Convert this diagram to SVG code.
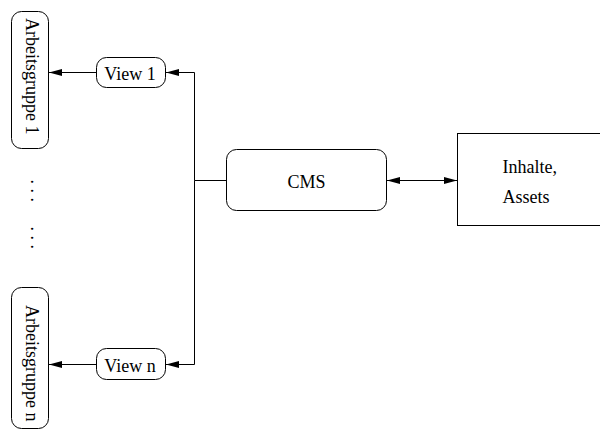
<svg xmlns="http://www.w3.org/2000/svg" width="600" height="429" viewBox="0 0 600 429">
  <style>
    .box { fill: #ffffff; stroke: #000000; stroke-width: 1; }
    .lbl { font-family: "Liberation Serif", "Times New Roman", serif; font-size: 18px; fill: #000000; }
    .mid { text-anchor: middle; }
    .wire { fill: none; stroke: #000000; stroke-width: 1; }
  </style>
  <defs>
    <marker id="arrow" markerUnits="userSpaceOnUse" markerWidth="14" markerHeight="8" refX="13" refY="3.5" orient="auto-start-reverse">
      <path d="M0,0 L13,3.5 L0,7 Z" fill="#000000"/>
    </marker>
  </defs>
  <rect width="600" height="429" fill="#ffffff"/>

  <!-- connectors -->
  <g id="connectors">
    <path class="wire" d="M226,180.5 H194.5 V72.5 H166" marker-end="url(#arrow)"/>
    <path class="wire" d="M194.5,180.5 V364.5 H166" marker-end="url(#arrow)"/>
    <path class="wire" d="M96,72.5 H49" marker-end="url(#arrow)"/>
    <path class="wire" d="M96,364.5 H49" marker-end="url(#arrow)"/>
    <path class="wire" d="M387,180.5 H457" marker-start="url(#arrow)" marker-end="url(#arrow)"/>
  </g>

  <!-- working groups -->
  <g id="arbeitsgruppe-1">
    <rect class="box" x="11.5" y="11.5" width="37" height="137" rx="10"/>
    <text class="lbl" transform="translate(26,18) rotate(90)">Arbeitsgruppe 1</text>
  </g>
  <g id="ellipsis">
    <text class="lbl" transform="translate(31,179.5) rotate(90)">. . .</text>
    <text class="lbl" transform="translate(31,226.5) rotate(90)">. . .</text>
  </g>
  <g id="arbeitsgruppe-n">
    <rect class="box" x="11.5" y="287.5" width="37" height="141" rx="10"/>
    <text class="lbl" transform="translate(26,305) rotate(90)">Arbeitsgruppe n</text>
  </g>

  <!-- views -->
  <g id="view-1">
    <rect class="box" x="96.5" y="57.5" width="69" height="30" rx="10"/>
    <text class="lbl mid" x="130" y="79.5">View 1</text>
  </g>
  <g id="view-n">
    <rect class="box" x="96.5" y="348.5" width="69" height="31" rx="10"/>
    <text class="lbl mid" x="130" y="371.5">View n</text>
  </g>

  <!-- CMS -->
  <g id="cms">
    <rect class="box" x="226.5" y="149.5" width="160" height="61" rx="10"/>
    <text class="lbl mid" x="306.5" y="188">CMS</text>
  </g>

  <!-- content store -->
  <g id="inhalte">
    <rect class="box" x="457.5" y="133.5" width="160" height="92"/>
    <text class="lbl" x="502.5" y="172.7">Inhalte,</text>
    <text class="lbl" x="502.5" y="203.3">Assets</text>
  </g>
</svg>
